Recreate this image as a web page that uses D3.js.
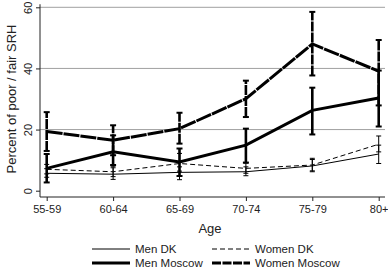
<!DOCTYPE html>
<html>
<head>
<meta charset="utf-8">
<script src="https://cdn.jsdelivr.net/npm/d3@7"></script>
<style>
  body { margin: 0; background: #fff; }
  text { font-family: "Liberation Sans", Arial, sans-serif; fill: #222; }
</style>
</head>
<body>
<svg id="chart"></svg>
<script>
const ages = ["55-59", "60-64", "65-69", "70-74", "75-79", "80+"];
const yTicks = [0, 20, 40, 60];

const menDK = [5.7, 5.4, 6.0, 6.2, 8.1, 12.0];
const menDKLo = [4.4, 3.7, 3.6, 4.9, 6.2, 8.9];
const menDKHi = [7.2, 7.5, 7.8, 7.8, 10.2, 14.9];

const womenDK = [7.0, 6.2, 8.9, 7.3, 8.4, 15.2];
const womenDKLo = [5.5, 4.6, 6.4, 5.7, 6.5, 12.7];
const womenDKHi = [8.6, 8.0, 12.2, 9.0, 10.6, 17.9];

const menMoscow = [7.3, 12.7, 9.4, 14.9, 26.3, 30.3];
const menMoscowLo = [2.7, 8.4, 4.8, 9.2, 18.4, 21.0];
const menMoscowHi = [12.0, 18.1, 13.8, 20.3, 33.7, 39.3];

const womenMoscow = [19.4, 16.5, 20.3, 30.1, 48.0, 39.1];
const womenMoscowLo = [13.0, 11.6, 15.4, 24.1, 37.7, 27.9];
const womenMoscowHi = [25.7, 21.4, 25.5, 36.0, 58.5, 49.3];

const width = 388;
const height = 270;

const svg = d3.select("#chart").attr("width", width).attr("height", height);

const x = d3.scalePoint().domain(ages).range([46.7, 378.7]);
const y = d3.scaleLinear().domain([0, 60]).range([190.7, 7.3]);

// grid lines
svg.append("g")
  .selectAll("line")
  .data(yTicks.filter((d) => d > 0))
  .enter()
  .append("line")
  .attr("x1", 40)
  .attr("x2", 385)
  .attr("y1", (d) => y(d))
  .attr("y2", (d) => y(d))
  .attr("stroke", "#a0a0a0")
  .attr("stroke-width", 1);

// y axis
const yAxis = d3.axisLeft(y).tickValues(yTicks).tickSize(4).tickSizeOuter(0);
const gy = svg.append("g").attr("transform", "translate(40,0)").call(yAxis);
gy.select(".domain").attr("d", `M0,${y(61)}V197`).attr("stroke", "#222");
gy.selectAll(".tick line").attr("stroke", "#222");
gy.selectAll(".tick text")
  .attr("transform", "rotate(-90)")
  .attr("x", 0)
  .attr("y", -8)
  .attr("dy", 0)
  .attr("text-anchor", "middle")
  .style("font-size", "11px")
  .style("font-family", "Liberation Sans, Arial, sans-serif")
  .attr("fill", "#222");

// x axis
const xAxis = d3.axisBottom(x).tickSize(4).tickSizeOuter(0);
const gx = svg.append("g").attr("transform", "translate(0,197)").call(xAxis);
gx.select(".domain").attr("d", "M40,0H385").attr("stroke", "#222");
gx.selectAll(".tick line").attr("stroke", "#222");
gx.selectAll(".tick text")
  .attr("y", 8)
  .attr("dy", "0.75em")
  .style("font-size", "11px")
  .style("font-family", "Liberation Sans, Arial, sans-serif")
  .attr("fill", "#222");

// axis titles
svg.append("text")
  .attr("transform", "translate(16,99) rotate(-90)")
  .attr("text-anchor", "middle")
  .style("font-size", "13px")
  .text("Percent of poor / fair SRH");

svg.append("text")
  .attr("x", 210)
  .attr("y", 233)
  .attr("text-anchor", "middle")
  .style("font-size", "13px")
  .text("Age");

const series = [
  { name: "Men DK", v: menDK, lo: menDKLo, hi: menDKHi, w: 1, dash: null, cap: 2.5 },
  { name: "Women DK", v: womenDK, lo: womenDKLo, hi: womenDKHi, w: 1, dash: "5,3", cap: 2.5 },
  { name: "Men Moscow", v: menMoscow, lo: menMoscowLo, hi: menMoscowHi, w: 3, dash: null, cap: 3 },
  { name: "Women Moscow", v: womenMoscow, lo: womenMoscowLo, hi: womenMoscowHi, w: 3, dash: "16,1", cap: 3 }
];

const line = d3.line().x((d, i) => x(ages[i])).y((d) => y(d));

series.forEach((s) => {
  const g = svg.append("g");
  g.append("path")
    .attr("d", line(s.v))
    .attr("fill", "none")
    .attr("stroke", "#000")
    .attr("stroke-width", s.w)
    .attr("stroke-dasharray", s.dash);

  const bars = g.selectAll(".bar")
    .data(ages)
    .enter()
    .append("g");
  bars.append("line")
    .attr("x1", (d) => x(d))
    .attr("x2", (d) => x(d))
    .attr("y1", (d, i) => y(s.lo[i]))
    .attr("y2", (d, i) => y(s.hi[i]))
    .attr("stroke", "#000")
    .attr("stroke-width", s.w === 1 ? 1 : 2.6)
    .attr("stroke-dasharray", s.dash ? (s.w === 1 ? null : "10,1") : null);
  [s.lo, s.hi].forEach((arr) => {
    bars.append("line")
      .attr("x1", (d) => x(d) - s.cap)
      .attr("x2", (d) => x(d) + s.cap)
      .attr("y1", (d, i) => y(arr[i]))
      .attr("y2", (d, i) => y(arr[i]))
      .attr("stroke", "#000")
      .attr("stroke-width", s.w === 1 ? 1 : 2);
  });
});

// legend
const legendPos = [
  { x: 92, y: 249 },
  { x: 212, y: 249 },
  { x: 92, y: 263 },
  { x: 212, y: 263 }
];
series.forEach((s, i) => {
  const p = legendPos[i];
  svg.append("line")
    .attr("x1", p.x)
    .attr("x2", p.x + 38)
    .attr("y1", p.y)
    .attr("y2", p.y)
    .attr("stroke", "#000")
    .attr("stroke-width", s.w)
    .attr("stroke-dasharray", s.w === 1 ? s.dash : (s.dash ? "9,1.5" : null));
  svg.append("text")
    .attr("x", p.x + 43)
    .attr("y", p.y)
    .attr("dy", "0.35em")
    .style("font-size", "11.5px")
    .text(s.name);
});
</script>
</body>
</html>
